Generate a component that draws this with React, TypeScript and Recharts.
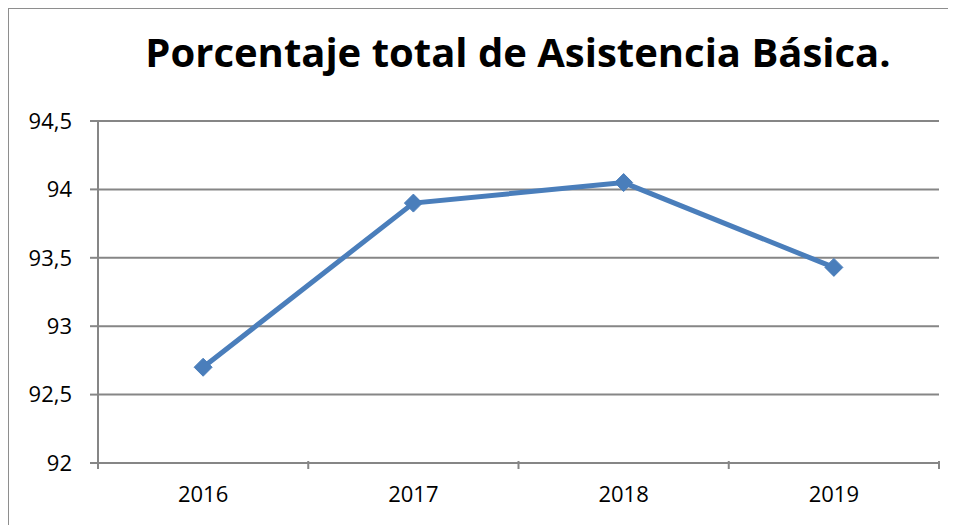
import { LineChart, Line, XAxis, YAxis, CartesianGrid } from "recharts";

const years = ["2016", "2017", "2018", "2019"];
const asistencia = [92.7, 93.9, 94.05, 93.43];
const yTicks = [92, 92.5, 93, 93.5, 94, 94.5];

const data = years.map((y, i) => ({ year: y, value: asistencia[i] }));

const BLUE = "#4A7EBB";
const GRAY = "#868686";
const X_TICK_GAP = 17;

// Excel-style diamond marker
const Diamond = (props: any) => {
  const { cx, cy } = props;
  const r = 9;
  return (
    <path
      d={`M${cx},${cy - r} L${cx + r},${cy} L${cx},${cy + r} L${cx - r},${cy} Z`}
      fill={BLUE}
      stroke={BLUE}
      strokeWidth={1}
    />
  );
};

// category label with tick marks between categories
const XTick = (props: any) => {
  const { x, y, payload, index, visibleTicksCount } = props;
  const half = 841 / years.length / 2;
  const axisY = y - 8 - X_TICK_GAP;
  return (
    <g>
      <line x1={x - half} y1={axisY} x2={x - half} y2={axisY + 8} stroke={GRAY} strokeWidth={2} />
      {index === visibleTicksCount - 1 && (
        <line x1={x + half} y1={axisY} x2={x + half} y2={axisY + 8} stroke={GRAY} strokeWidth={2} />
      )}
      <text x={x} y={y} dy="0.71em" textAnchor="middle" fill="#000" fontSize={22}>
        {payload.value}
      </text>
    </g>
  );
};

const App = () => {
  return (
    <div
      style={{
        position: "relative",
        width: 960,
        height: 530,
        border: "1px solid #8e8e8e",
        fontFamily: "'Open Sans', sans-serif",
        background: "#fff",
      }}
    >
      <div
        style={{
          position: "absolute",
          left: 0,
          width: 1018,
          top: 15,
          textAlign: "center",
          fontWeight: "bold",
          fontSize: 40,
          color: "#000",
        }}
      >
        Porcentaje total de Asistencia Básica.
      </div>
      <LineChart
        width={948}
        height={517}
        data={data}
        margin={{ top: 112, right: 18, bottom: 23, left: 0 }}
      >
        <CartesianGrid vertical={false} stroke={GRAY} strokeWidth={2} />
        <XAxis
          dataKey="year"
          scale="band"
          axisLine={{ stroke: GRAY, strokeWidth: 2 }}
          tickLine={false}
          height={40}
          tickMargin={X_TICK_GAP}
          tick={<XTick />}
        />
        <YAxis
          domain={[92, 94.5]}
          ticks={yTicks}
          width={89}
          tickSize={8}
          tickMargin={18}
          axisLine={{ stroke: GRAY, strokeWidth: 2 }}
          tickLine={{ stroke: GRAY, strokeWidth: 2 }}
          tick={{ fill: "#000", fontSize: 22 }}
          tickFormatter={(v: number) => String(v).replace(".", ",")}
          interval={0}
        />
        <Line
          type="linear"
          dataKey="value"
          stroke={BLUE}
          strokeWidth={5}
          dot={<Diamond />}
          activeDot={false}
          isAnimationActive={false}
        />
      </LineChart>
    </div>
  );
};

export default App;
